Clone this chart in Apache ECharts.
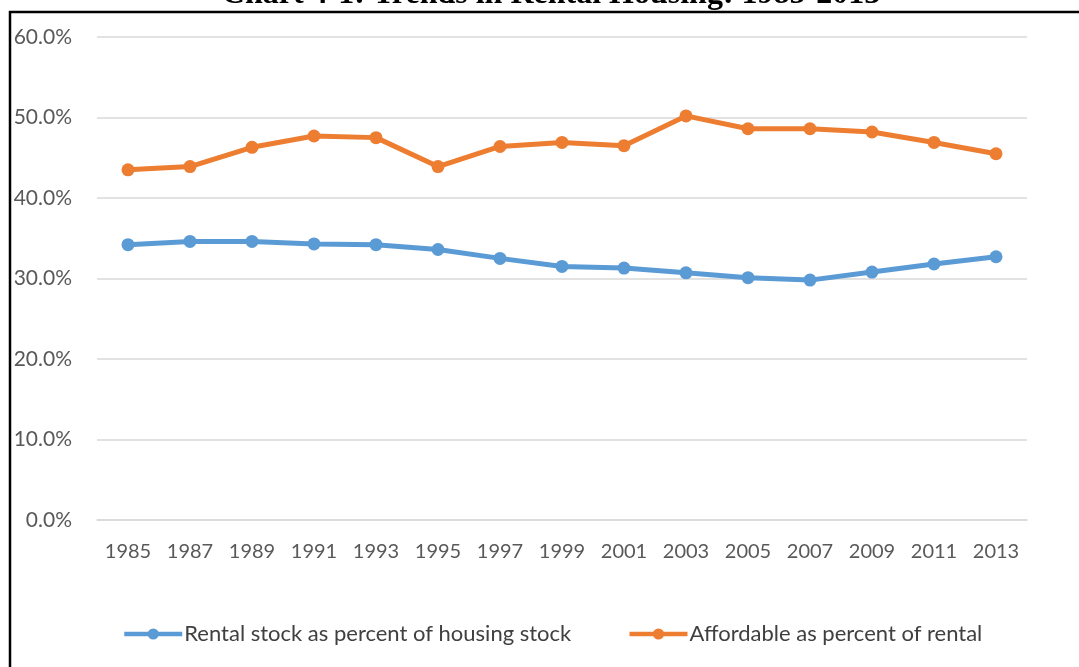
<!DOCTYPE html>
<html>
<head>
<meta charset="utf-8">
<script src="https://cdn.jsdelivr.net/npm/echarts@6/dist/echarts.min.js"></script>
<style>
  html, body { margin: 0; padding: 0; background: #fff; }
  #chart { width: 1079px; height: 667px; }
</style>
</head>
<body>
<div id="chart"></div>
<script>
// data
var years = ['1985', '1987', '1989', '1991', '1993', '1995', '1997', '1999', '2001', '2003', '2005', '2007', '2009', '2011', '2013'];
var rentalStock = [34.2, 34.6, 34.6, 34.3, 34.2, 33.6, 32.5, 31.5, 31.3, 30.7, 30.1, 29.8, 30.8, 31.8, 32.7];
var affordable = [43.5, 43.9, 46.3, 47.7, 47.5, 43.9, 46.4, 46.9, 46.5, 50.2, 48.6, 48.6, 48.2, 46.9, 45.5];
var seriesNames = ['Rental stock as percent of housing stock', 'Affordable as percent of rental'];
var colors = ['#5B9BD5', '#ED7D31'];

var myChart = echarts.init(document.getElementById('chart'));
var font = 'Lato, "Open Sans", sans-serif';

var option = {
    backgroundColor: '#fff',
    animation: false,
    color: colors,
    graphic: [
        {
            type: 'text',
            x: 551,
            y: -21,
            style: {
                text: 'Chart 4-1: Trends in Rental Housing: 1985-2013',
                font: 'bold 32px "Liberation Serif", "Times New Roman", serif',
                fill: '#000',
                align: 'center',
                verticalAlign: 'top'
            }
        },
        {
            // frame around the chart (left + top edges visible)
            type: 'polyline',
            shape: { points: [[10, 700], [10, 12], [1100, 12]] },
            style: { stroke: '#000', lineWidth: 2.5, fill: null }
        }
    ],
    grid: {
        left: 97,
        right: 52,
        top: 37,
        bottom: 147
    },
    legend: {
        data: seriesNames,
        left: 122,
        top: 623,
        padding: 0,
        itemWidth: 58,
        itemHeight: 14,
        itemGap: 56,
        lineStyle: { width: 4.5 },
        textStyle: { fontFamily: font, fontSize: 22, color: '#404040', padding: [0, 0, 0, -3] }
    },
    xAxis: {
        type: 'category',
        data: years,
        boundaryGap: true,
        axisLine: { show: true, lineStyle: { color: '#D9D9D9', width: 1.5 } },
        axisTick: { show: false },
        axisLabel: { interval: 0, fontFamily: font, fontSize: 20, color: '#595959', margin: 22 }
    },
    yAxis: {
        type: 'value',
        min: 0,
        max: 60,
        interval: 10,
        axisLine: { show: false },
        axisTick: { show: false },
        splitLine: { lineStyle: { color: '#D9D9D9', width: 1.5 } },
        axisLabel: {
            fontFamily: font,
            fontSize: 21,
            color: '#595959',
            margin: 25,
            formatter: function (v) { return v.toFixed(1) + '%'; }
        }
    },
    series: [
        {
            name: seriesNames[0],
            type: 'line',
            data: rentalStock,
            symbol: 'circle',
            symbolSize: 13,
            lineStyle: { width: 5 },
            itemStyle: { color: colors[0] }
        },
        {
            name: seriesNames[1],
            type: 'line',
            data: affordable,
            symbol: 'circle',
            symbolSize: 13,
            lineStyle: { width: 5 },
            itemStyle: { color: colors[1] }
        }
    ]
};
myChart.setOption(option, true);
</script>
</body>
</html>
